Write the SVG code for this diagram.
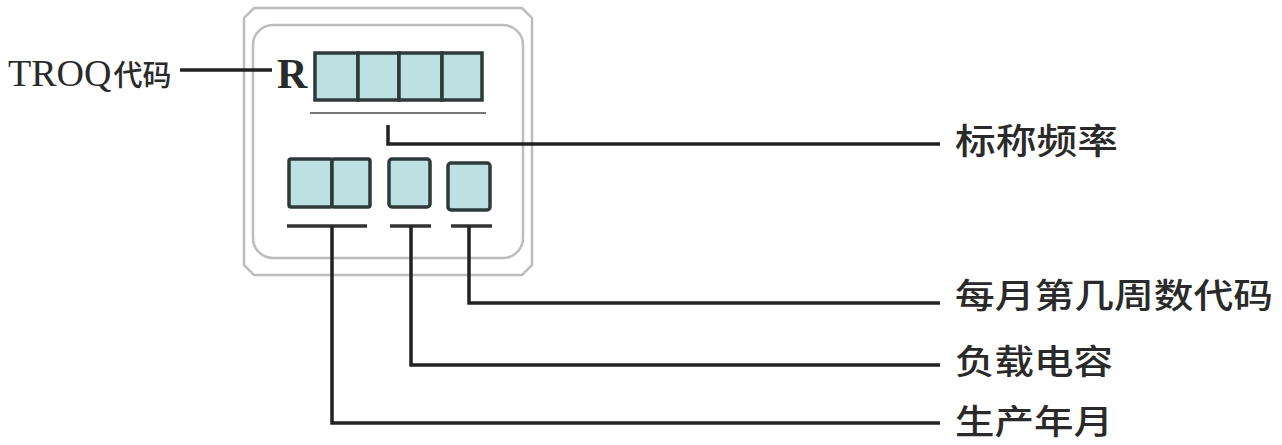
<svg xmlns="http://www.w3.org/2000/svg" width="1282" height="445" viewBox="0 0 1282 445">
<style>
.frame{fill:none;stroke:#bdbdbd;stroke-width:2.5}
.cell{fill:#bde0e2;stroke:#2e3a3a;stroke-width:3.5}
.conn{fill:none;stroke:#222;stroke-width:3.5}
.bar{fill:none;stroke:#333;stroke-width:3.5}
.thin{fill:none;stroke:#777;stroke-width:2}
.cjk{font-family:"Noto Sans CJK SC","Noto Sans",sans-serif;fill:#2a2a2a;font-weight:500}
.ser{font-family:"Liberation Serif","DejaVu Serif",serif;fill:#2a2a2a}
</style>
<rect width="1282" height="445" fill="#fff"/>
<g id="package">
<path class="frame" d="M254,8 L522,8 L532,18 L532,265 L522,275 L254,275 L244,265 L244,18 Z"/>
<rect class="frame" x="253" y="25" width="270" height="233" rx="20"/>
</g>
<g id="freq-cells">
<rect class="cell" x="315" y="53" width="43" height="47"/>
<rect class="cell" x="358" y="53" width="41" height="47"/>
<rect class="cell" x="399" y="53" width="43" height="47"/>
<rect class="cell" x="442" y="53" width="40" height="47"/>
<line class="thin" x1="310" y1="113" x2="486" y2="113"/>
</g>
<g id="r-label">
<text class="ser" x="277" y="88" font-size="42" font-weight="bold">R</text>
</g>
<g id="year-cells">
<rect class="cell" x="289" y="159" width="43" height="48" rx="2"/>
<rect class="cell" x="332" y="159" width="38" height="48" rx="2"/>
<line class="bar" x1="287" y1="226" x2="367" y2="226"/>
</g>
<g id="cap-cell">
<rect class="cell" x="389" y="159" width="41" height="48" rx="3"/>
<line class="bar" x1="390" y1="226" x2="431" y2="226"/>
</g>
<g id="week-cell">
<rect class="cell" x="448" y="163" width="42" height="47" rx="3"/>
<line class="bar" x1="451" y1="226" x2="492" y2="226"/>
</g>
<g id="connectors">
<line class="conn" x1="180" y1="70" x2="272" y2="70"/>
<polyline class="conn" points="388,125 388,144 940,144"/>
<polyline class="conn" points="469,226 469,303 940,303"/>
<polyline class="conn" points="411,226 411,365 940,365"/>
<polyline class="conn" points="332,226 332,423 940,423"/>
</g>
<g id="label-troq">
<text class="ser" x="8" y="86" font-size="38">TROQ<tspan class="cjk" font-size="29" dx="2">代码</tspan></text>
</g>
<g id="label-freq">
<text class="cjk" x="955" y="154" font-size="35" textLength="163" lengthAdjust="spacingAndGlyphs">标称频率</text>
</g>
<g id="label-week">
<text class="cjk" x="955" y="308" font-size="34" textLength="318" lengthAdjust="spacingAndGlyphs">每月第几周数代码</text>
</g>
<g id="label-cap">
<text class="cjk" x="955" y="374" font-size="34" textLength="158" lengthAdjust="spacingAndGlyphs">负载电容</text>
</g>
<g id="label-year">
<text class="cjk" x="955" y="434" font-size="34" textLength="158" lengthAdjust="spacingAndGlyphs">生产年月</text>
</g>
</svg>
